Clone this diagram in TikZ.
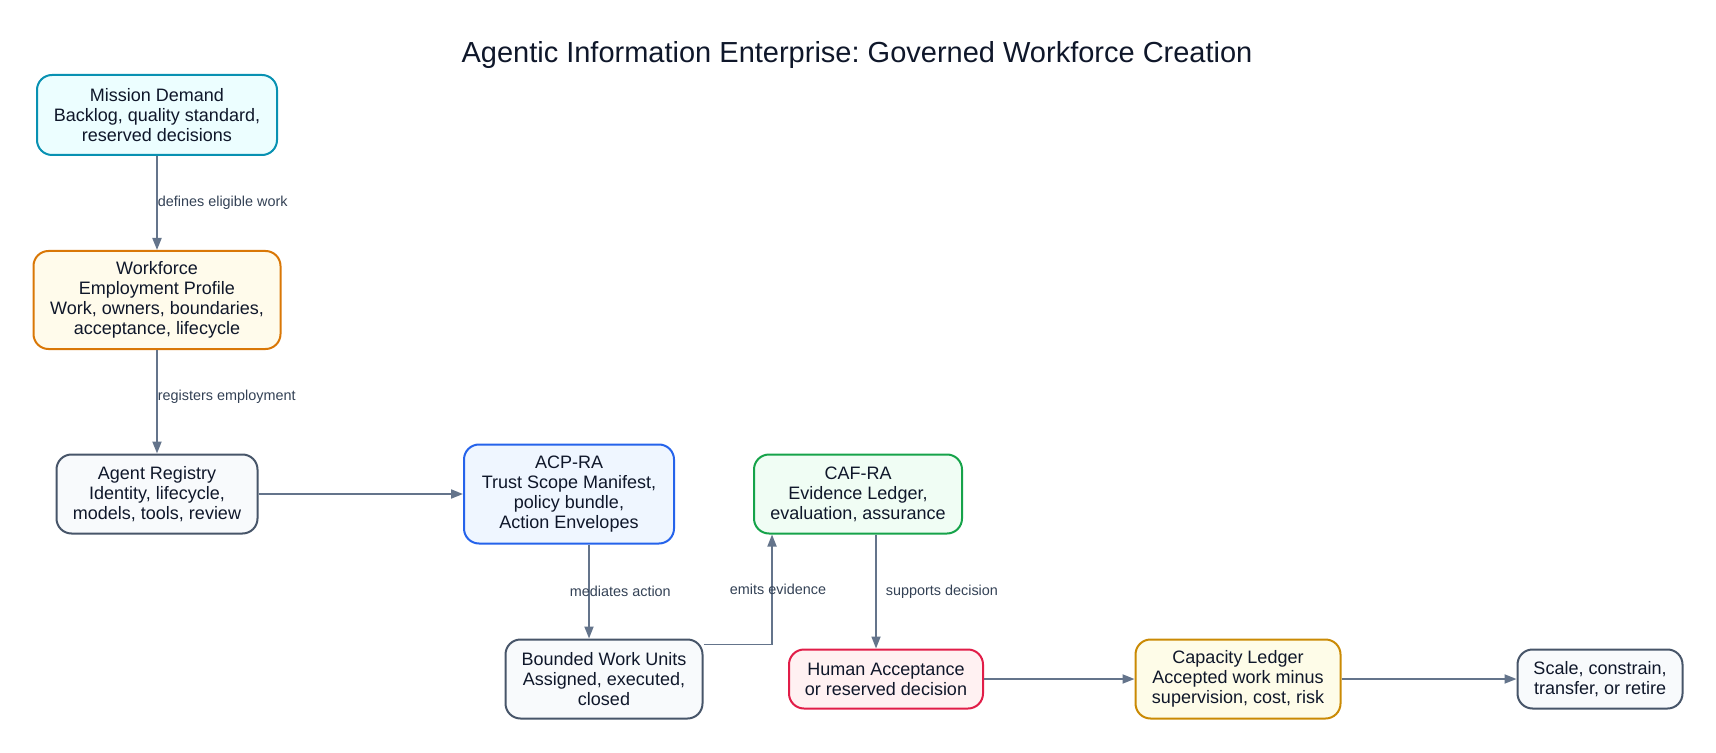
\documentclass[tikz,border=0pt]{standalone}
\usepackage{fontspec}
\setmainfont{Liberation Sans}
\usepackage{xcolor}
\usetikzlibrary{arrows.meta}
\frenchspacing
\definecolor{ink}{HTML}{0F172A}
\definecolor{edgecol}{HTML}{64748B}
\definecolor{labcol}{HTML}{334155}
\definecolor{misfill}{HTML}{ECFEFF}
\definecolor{misline}{HTML}{0891B2}
\definecolor{wfpfill}{HTML}{FFFBEB}
\definecolor{wfpline}{HTML}{D97706}
\definecolor{slfill}{HTML}{F8FAFC}
\definecolor{slline}{HTML}{475569}
\definecolor{acpfill}{HTML}{EFF6FF}
\definecolor{acpline}{HTML}{2563EB}
\definecolor{caffill}{HTML}{F0FDF4}
\definecolor{cafline}{HTML}{16A34A}
\definecolor{humfill}{HTML}{FFF1F2}
\definecolor{humline}{HTML}{E11D48}
\definecolor{capfill}{HTML}{FEFCE8}
\definecolor{capline}{HTML}{CA8A04}
\tikzset{
  box/.style={draw, line width=1pt, rounded corners=7.5pt, align=center, inner sep=0pt, text=ink, font=\fontsize{9}{10}\selectfont},
  flow/.style={draw=edgecol, line width=0.9pt, -{Triangle[length=6pt,width=4.5pt]}},
  elabel/.style={text=labcol, font=\fontsize{7.2}{8}\selectfont, inner sep=0pt}
}

\begin{document}
\begin{tikzpicture}[x=0.5pt,y=-0.5pt]
\useasboundingbox (0,0) rectangle (1716,753);
\node[text=ink, font=\fontsize{14.5}{16}\selectfont] (title) at (857,55) {Agentic Information Enterprise: Governed Workforce Creation};
\node[box, fill=misfill, draw=misline, minimum width=120pt, minimum height=40pt] (mis) at (157,115) {Mission Demand\\Backlog, quality standard,\\reserved decisions};
\node[box, fill=wfpfill, draw=wfpline, minimum width=123.5pt, minimum height=49pt] (wfp) at (157,300) {Workforce\\Employment Profile\\Work, owners, boundaries,\\acceptance, lifecycle};
\node[box, fill=slfill, draw=slline, minimum width=100.5pt, minimum height=39.5pt] (reg) at (157,494) {Agent Registry\\Identity, lifecycle,\\models, tools, review};
\node[box, fill=acpfill, draw=acpline, minimum width=105pt, minimum height=49.5pt] (acp) at (569,494) {ACP-RA\\Trust Scope Manifest,\\policy bundle,\\Action Envelopes};
\node[box, fill=slfill, draw=slline, minimum width=98.5pt, minimum height=39.5pt] (bwu) at (604,679) {Bounded Work Units\\Assigned, executed,\\closed};
\node[box, fill=caffill, draw=cafline, minimum width=104pt, minimum height=39.5pt] (caf) at (858,494) {CAF-RA\\Evidence Ledger,\\evaluation, assurance};
\node[box, fill=humfill, draw=humline, minimum width=97pt, minimum height=29.5pt] (hum) at (886,679) {Human Acceptance\\or reserved decision};
\node[box, fill=capfill, draw=capline, minimum width=102.5pt, minimum height=39.5pt] (cap) at (1238,679) {Capacity Ledger\\Accepted work minus\\supervision, cost, risk};
\node[box, fill=slfill, draw=slline, minimum width=82.5pt, minimum height=29.5pt] (scl) at (1600,679) {Scale, constrain,\\transfer, or retire};
\draw[flow] (mis) -- (wfp) node[elabel, midway, anchor=west] {defines eligible work};
\draw[flow] (wfp) -- (reg) node[elabel, pos=0.45, anchor=west] {registers employment};
\draw[flow] (reg) -- (acp);
\draw[flow] ([xshift=10pt]acp.south) -- ([xshift=10pt]acp.south |- bwu.north) node[elabel, midway, anchor=west, xshift=-10pt] {mediates action};
\draw[flow] ([yshift=-3pt]bwu.north east) -| ([xshift=9.5pt]caf.south west) node[elabel, pos=0.75, xshift=3pt] {emits evidence};
\draw[flow] ([xshift=9pt]caf.south) -- ([xshift=9pt]caf.south |- hum.north) node[elabel, midway, anchor=west, xshift=4.5pt] {supports decision};
\draw[flow] (hum) -- (cap);
\draw[flow] (cap) -- (scl);
\end{tikzpicture}
\end{document}
